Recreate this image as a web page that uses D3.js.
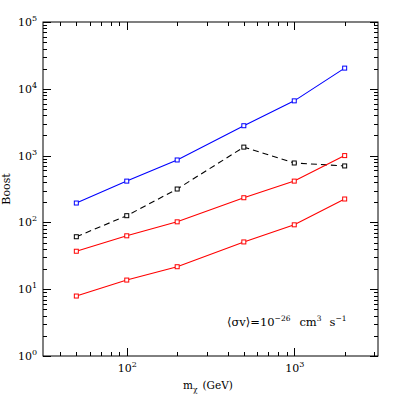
<!DOCTYPE html>
<html>
<head>
<meta charset="utf-8">
<script src="https://cdn.jsdelivr.net/npm/d3@7"></script>
<style>
  body { margin: 0; background: #fff; }
  text { font-family: "DejaVu Serif", "Liberation Serif", serif; fill: #000; }
</style>
</head>
<body>
<svg id="chart" width="399" height="399"></svg>
<script>
// masses (GeV)
var masses = [50, 100, 200, 500, 1000, 2000];
// boost values
var blueBoost = [195, 415, 860, 2800, 6600, 20400];
var dashedBoost = [61, 126, 316, 1340, 775, 700];
var redUpperBoost = [37, 63, 102, 234, 415, 1000];
var redLowerBoost = [7.9, 13.7, 21.7, 51, 92, 224];
var yTicks = [1, 10, 100, 1000, 10000, 100000];
var xTicks = [100, 1000];

var svg = d3.select("#chart");
var pL = 43, pR = 378, pT = 22, pB = 356;

var x = d3.scaleLog().domain([Math.pow(10, 1.5), Math.pow(10, 3.5)]).range([pL, pR]);
var y = d3.scaleLog().domain([1, 1e5]).range([pB, pT]);

var series = [
  { vals: blueBoost, color: "#0000ff", dash: null },
  { vals: dashedBoost, color: "#000000", dash: "6,4" },
  { vals: redUpperBoost, color: "#ff0000", dash: null },
  { vals: redLowerBoost, color: "#ff0000", dash: null }
];

var line = d3.line()
  .x(d => x(d[0]))
  .y(d => y(d[1]));

series.forEach(function(s) {
  var pts = masses.map((m, i) => [m, s.vals[i]]);
  svg.append("path")
    .attr("d", line(pts))
    .attr("fill", "none")
    .attr("stroke", s.color)
    .attr("stroke-width", 1.1)
    .attr("stroke-dasharray", s.dash);
  svg.selectAll(null)
    .data(pts)
    .enter()
    .append("rect")
      .attr("x", d => x(d[0]) - 2)
      .attr("y", d => y(d[1]) - 2)
      .attr("width", 4)
      .attr("height", 4)
      .attr("fill", "#fff")
      .attr("stroke", s.color)
      .attr("stroke-width", 1);
});

// frame
svg.append("rect")
  .attr("x", pL).attr("y", pT)
  .attr("width", pR - pL).attr("height", pB - pT)
  .attr("fill", "none").attr("stroke", "#000").attr("stroke-width", 1);

// inward ticks
var minorX = [];
for (var e = 1; e <= 3; e++) {
  for (var k = 1; k <= 9; k++) {
    var v = k * Math.pow(10, e);
    if (v >= x.domain()[0] && v <= x.domain()[1]) minorX.push(v);
  }
}
var minorY = [];
for (var e2 = 0; e2 < 5; e2++) {
  for (var k2 = 1; k2 <= 9; k2++) minorY.push(k2 * Math.pow(10, e2));
}
minorY.push(1e5);

function tickLen(v) {
  var l = Math.log10(v);
  return Math.abs(l - Math.round(l)) < 1e-9 ? 8 : 4;
}

var g = svg.append("g").attr("stroke", "#000").attr("stroke-width", 1);
minorX.forEach(function(v) {
  var px = Math.round(x(v)) + 0.5, L = tickLen(v);
  g.append("line").attr("x1", px).attr("x2", px).attr("y1", pB).attr("y2", pB - L);
  g.append("line").attr("x1", px).attr("x2", px).attr("y1", pT).attr("y2", pT + L);
});
minorY.forEach(function(v) {
  var py = Math.round(y(v)) + 0.5, L = tickLen(v);
  g.append("line").attr("x1", pL).attr("x2", pL + L).attr("y1", py).attr("y2", py);
  g.append("line").attr("x1", pR).attr("x2", pR - L).attr("y1", py).attr("y2", py);
});

// tick labels
function powLabel(sel, exp) {
  sel.append("tspan").text("10");
  sel.append("tspan").attr("dy", -5).attr("font-size", 8).text(exp);
}
yTicks.forEach(function(v) {
  var t = svg.append("text")
    .attr("x", 18).attr("y", y(v) + 4)
    .attr("font-size", 11);
  powLabel(t, Math.round(Math.log10(v)));
});
xTicks.forEach(function(v) {
  var t = svg.append("text")
    .attr("x", x(v) - 9).attr("y", 372)
    .attr("font-size", 11);
  powLabel(t, Math.round(Math.log10(v)));
});

// axis titles
svg.append("text")
  .attr("transform", "translate(10," + ((pT + pB) / 2) + ") rotate(-90)")
  .attr("text-anchor", "middle")
  .attr("font-size", 11)
  .text("Boost");

var xl = svg.append("text")
  .attr("x", 183).attr("y", 389)
  .attr("font-size", 10.5);
xl.append("tspan").text("m");
xl.append("tspan").attr("dy", 3).attr("font-size", 7.5).text("χ");
xl.append("tspan").attr("dy", -3).attr("dx", 5).text("(GeV)");

// annotation
var ann = svg.append("text")
  .attr("x", 227).attr("y", 326)
  .attr("font-size", 11.5);
ann.append("tspan").text("⟨σv⟩=10");
ann.append("tspan").attr("dy", -5).attr("font-size", 7.5).text("−26");
ann.append("tspan").attr("dy", 5).attr("dx", 9).text("cm");
ann.append("tspan").attr("dy", -5).attr("font-size", 7.5).text("3");
ann.append("tspan").attr("dy", 5).attr("dx", 8).text("s");
ann.append("tspan").attr("dy", -5).attr("font-size", 7.5).text("−1");
</script>
</body>
</html>
